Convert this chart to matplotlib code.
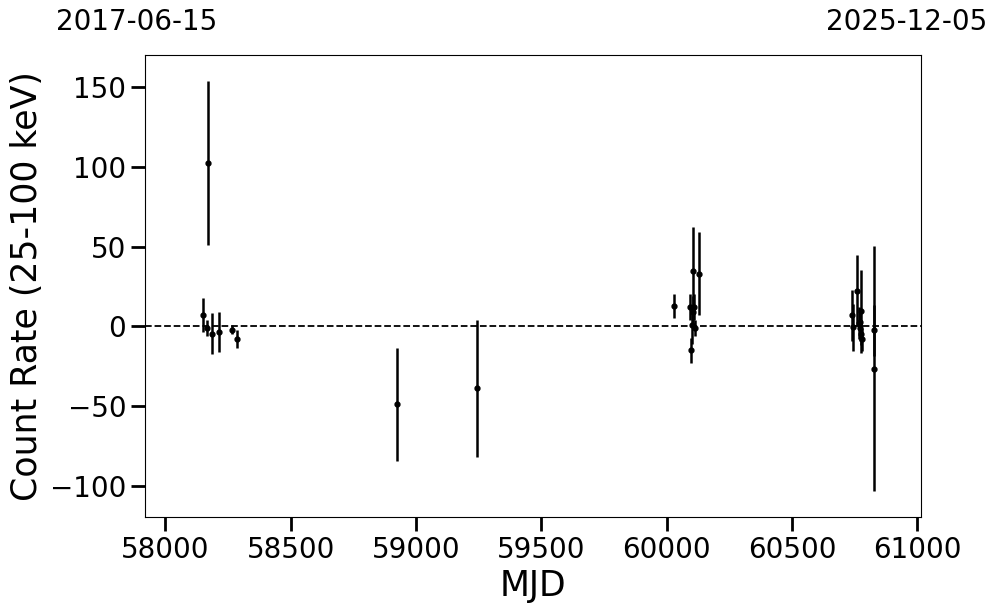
import matplotlib
matplotlib.use("Agg")
import matplotlib.pyplot as plt

# light curve points
mjd = [58152, 58166, 58170, 58188, 58214, 58266, 58287,
       58925, 59245,
       60031, 60092, 60098, 60100, 60104, 60106, 60110, 60114, 60128,
       60740, 60743, 60760, 60766, 60770, 60772, 60774, 60777, 60778,
       60828, 60829]
rate = [7, -1.3, 102.5, -4.5, -3.5, -2, -7.8,
        -48.8, -38.9,
        13, 12, -15, 1, 34.5, 9, 12, -1.3, 33,
        7, -0.7, 22.5, 2.4, -1.3, 2.8, -4.9, 9.5, -8.2,
        -2.4, -26.5]
rate_err = [10.5, 5, 51.5, 13, 12.5, 3, 5.5,
            35.5, 43,
            7.5, 8, 8, 12, 28, 10, 8, 5, 26,
            16, 15, 22, 10, 8, 9, 7, 26, 7,
            16, 77]

date_start = "2017-06-15"
date_end = "2025-12-05"
mjd_start = 57919
mjd_end = 61014

fig = plt.figure(figsize=(9.97, 6.13), dpi=100)
ax = fig.add_axes([0.1454, 0.157, 0.7781, 0.753])

ax.errorbar(mjd, rate, yerr=rate_err, fmt="o", color="k", ms=3.5,
            elinewidth=1.8, capsize=0)
ax.axhline(0, color="k", linestyle="--", linewidth=1.3)

ax.set_xlim(mjd_start, mjd_end)
ax.set_ylim(-119.4, 170.1)
ax.set_xticks([58000, 58500, 59000, 59500, 60000, 60500, 61000])
ax.set_yticks([-100, -50, 0, 50, 100, 150])
ax.tick_params(axis="both", which="major", labelsize=20, length=10, width=2)
ax.set_xlabel("MJD", fontsize=25)
ax.set_ylabel("Count Rate (25-100 keV)", fontsize=25)

fig.text(137 / 997, 1 - 22 / 613, date_start, fontsize=20, ha="center", va="center")
fig.text(907 / 997, 1 - 22 / 613, date_end, fontsize=20, ha="center", va="center")

fig.savefig("out.png", dpi=100)
